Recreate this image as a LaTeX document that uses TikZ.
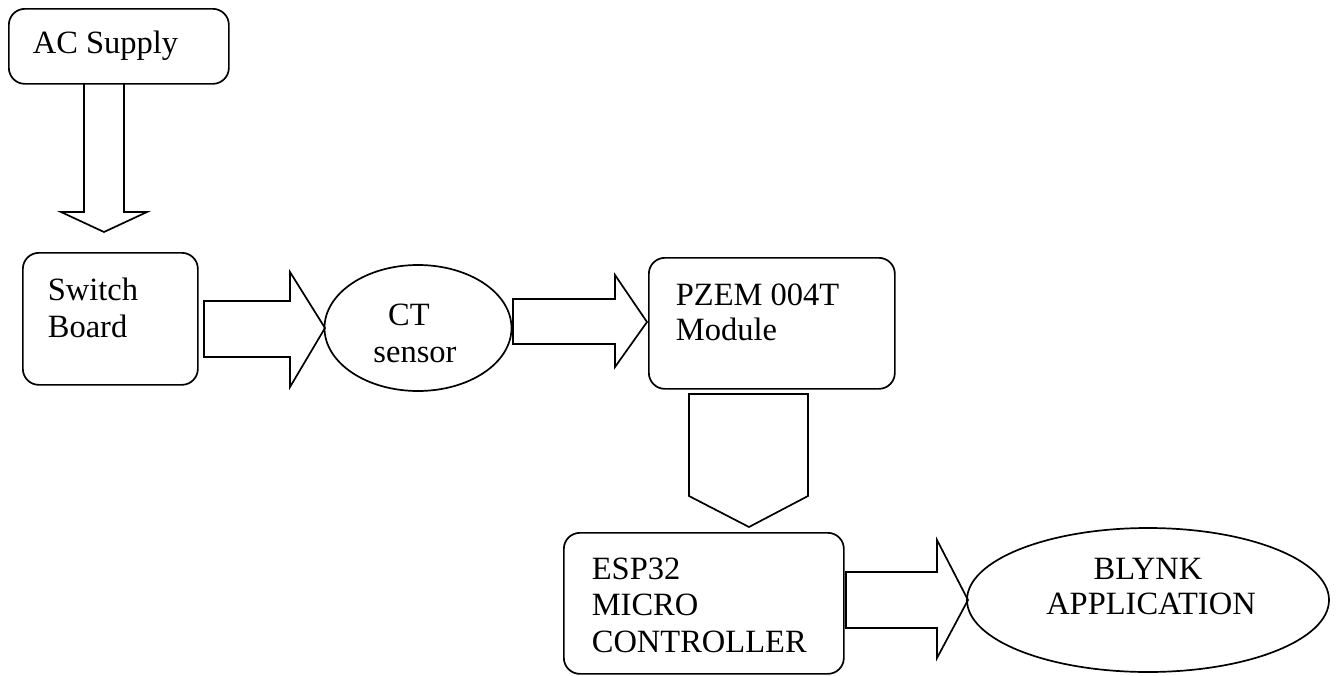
\documentclass[tikz,border=0pt]{standalone}
\usepackage{fontspec}
\setmainfont{Liberation Serif}
\usetikzlibrary{shapes.geometric}
\begin{document}
\begin{tikzpicture}[x=1pt,y=-1pt,line width=1.7pt,
  box/.style={draw,rounded corners=16pt,inner sep=0pt,anchor=north west},
  ell/.style={draw,ellipse,inner sep=0pt},
  blk/.style={draw,line join=miter},
  lbl/.style={font=\fontsize{32.5}{38}\selectfont,anchor=base west,inner sep=0pt},
  clbl/.style={font=\fontsize{32.5}{38}\selectfont,anchor=base,inner sep=0pt}]
\useasboundingbox (0,0) rectangle (1339,675);

% boxes
\node[box,minimum width=220pt,minimum height=75pt] (ac) at (8,8) {};
\node[box,minimum width=175pt,minimum height=132pt] (sw) at (22,252) {};
\node[box,minimum width=246pt,minimum height=131pt] (pz) at (648,257) {};
\node[box,minimum width=280pt,minimum height=141pt] (esp) at (563,532) {};
\node[ell,minimum width=187pt,minimum height=126pt] (ct) at (418,328) {};
\node[ell,minimum width=362pt,minimum height=144pt] (bl) at (1148,600) {};

% labels
\node[lbl] (tac) at (32,53) {AC Supply};
\node[lbl] (tsw1) at (47,300) {Switch};
\node[lbl] (tsw2) at (47,337) {Board};
\node[clbl] (tct1) at (409,325) {CT};
\node[clbl] (tct2) at (415,362) {sensor};
\node[lbl] (tpz1) at (675,305) {PZEM 004T};
\node[lbl] (tpz2) at (675,340) {Module};
\node[lbl] (tesp1) at (591,579) {ESP32};
\node[lbl] (tesp2) at (591,615) {MICRO};
\node[lbl] (tesp3) at (591,652) {CONTROLLER};
\node[clbl] (tbl1) at (1148,579) {BLYNK};
\node[clbl] (tbl2) at (1151,614) {APPLICATION};

% block arrows
\draw[blk] (84,83) -- (84,212) -- (61,212) -- (104,232) -- (147,212) -- (124,212) -- (124,83);
\draw[blk] (204,301) -- (290,301) -- (290,272) -- (325,328) -- (290,387) -- (290,357) -- (204,357) -- cycle;
\draw[blk] (513,299) -- (615,299) -- (615,275) -- (647,322) -- (615,367) -- (615,344) -- (513,344) -- cycle;
\draw[blk] (689,394) -- (808,394) -- (808,496) -- (749,527) -- (689,496) -- cycle;
\draw[blk] (846,572) -- (937,572) -- (937,540) -- (968,600) -- (937,658) -- (937,628) -- (846,628) -- cycle;
\end{tikzpicture}
\end{document}
